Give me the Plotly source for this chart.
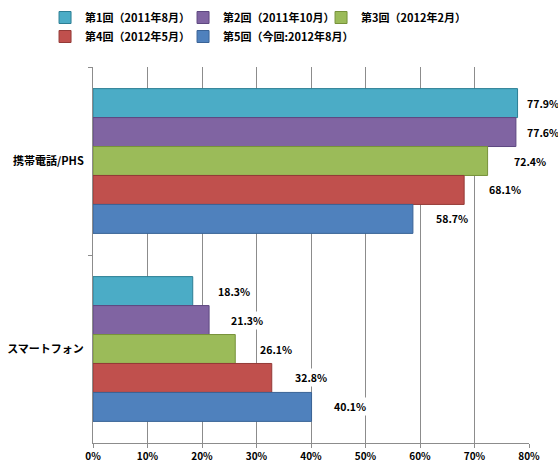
import plotly.graph_objects as go

categories = ["携帯電話/PHS", "スマートフォン"]
series_names = ["第1回（2011年8月）", "第2回（2011年10月）", "第3回（2012年2月）",
                "第4回（2012年5月）", "第5回（今回:2012年8月）"]
phs_values = [77.9, 77.6, 72.4, 68.1, 58.7]
smart_values = [18.3, 21.3, 26.1, 32.8, 40.1]
tick_values = [0, 10, 20, 30, 40, 50, 60, 70, 80]
tick_labels = ["0%", "10%", "20%", "30%", "40%", "50%", "60%", "70%", "80%"]

colors = ["#4BACC6", "#8064A2", "#9BBB59", "#C0504D", "#4F81BD"]
edge_colors = ["#2C7E94", "#5E4880", "#77923A", "#943A37", "#3A6396"]
label_shift = [[7, 9, 24, 23, 21], [23, 20, 23, 21, 20]]

FONT = "Noto Sans CJK JP"
BARGAP = 0.23

fig = go.Figure()
for i, name in enumerate(series_names):
    fig.add_trace(go.Bar(
        y=categories,
        x=[phs_values[i], smart_values[i]],
        orientation="h",
        name=name,
        marker=dict(color=colors[i], line=dict(color=edge_colors[i], width=1)),
        hoverinfo="skip",
    ))

n = len(series_names)
w = (1 - BARGAP) / n
annotations = []
for ci, vals in enumerate([phs_values, smart_values]):
    for i, v in enumerate(vals):
        annotations.append(dict(
            x=v, y=ci + (i - (n - 1) / 2) * w, xref="x", yref="y",
            text=f"{v:.1f}%", showarrow=False, xanchor="left", yanchor="middle",
            xshift=label_shift[ci][i], bgcolor="white", borderpad=1,
            font=dict(family=FONT, size=10.5, color="#000000", weight="bold"),
        ))

fig.update_layout(
    width=558, height=472,
    margin=dict(l=93, r=29, t=67, b=29, autoexpand=False),
    paper_bgcolor="white", plot_bgcolor="white",
    barmode="group", bargap=BARGAP, bargroupgap=0,
    font=dict(family=FONT, size=11, color="#000000"),
    showlegend=True,
    legend=dict(
        orientation="h", x=-0.11, xanchor="left",
        yref="paper", y=1 + 64 / 376, yanchor="top",
        entrywidth=93, entrywidthmode="pixels",
        font=dict(family=FONT, size=11, weight="bold"),
        traceorder="normal", itemclick=False, itemdoubleclick=False,
        bgcolor="rgba(0,0,0,0)",
    ),
    annotations=annotations,
    xaxis=dict(
        range=[0, 80], tickvals=tick_values, ticktext=tick_labels,
        showgrid=True, gridcolor="#8C8C8C", gridwidth=1,
        showline=True, linecolor="#8C8C8C", linewidth=1,
        ticks="outside", ticklen=4, tickcolor="#8C8C8C",
        tickfont=dict(family=FONT, size=10, weight="bold"),
        zeroline=False, fixedrange=True, automargin=False,
    ),
    yaxis=dict(
        autorange="reversed", type="category",
        showline=True, linecolor="#8C8C8C", linewidth=1,
        ticks="outside", ticklen=4, tickcolor="#8C8C8C", tickson="boundaries",
        tickfont=dict(family=FONT, size=11, weight="bold"),
        ticklabelstandoff=6,
        showgrid=False, fixedrange=True, automargin=False,
    ),
)

fig.write_html("out.html", config={"displayModeBar": False},
               post_script="document.body.style.margin='0px';")
